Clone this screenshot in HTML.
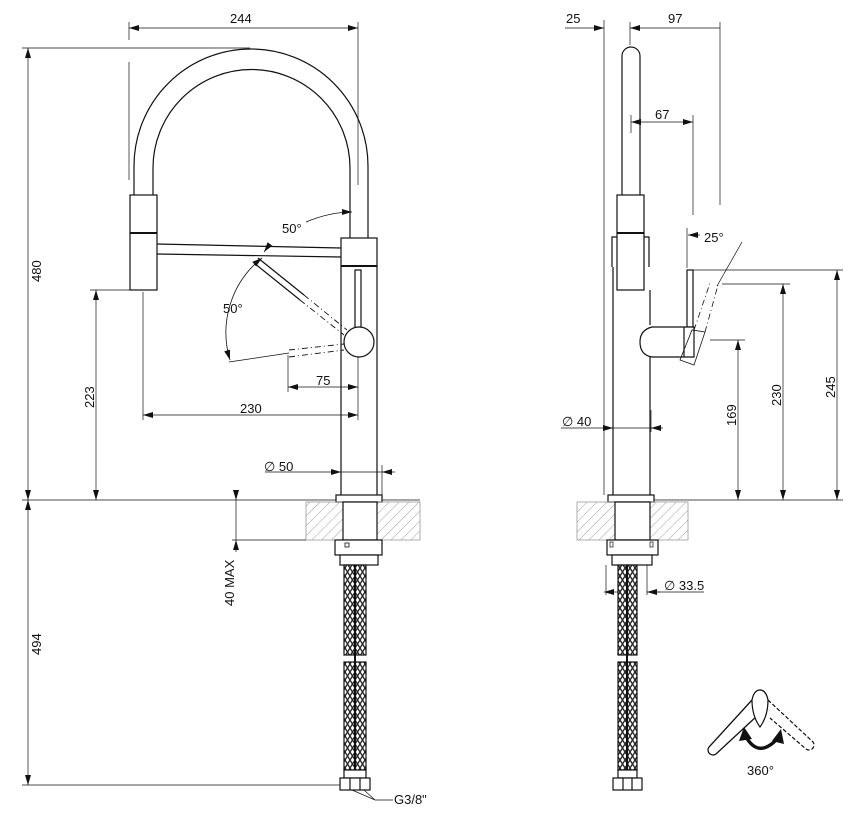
<!DOCTYPE html>
<html><head><meta charset="utf-8"><style>
html,body{margin:0;padding:0;background:#fff;}
svg{display:block;}
text{font-family:"Liberation Sans",Arial,sans-serif;font-size:13px;fill:#111;}
</style></head><body>
<svg width="856" height="816" viewBox="0 0 856 816" xmlns="http://www.w3.org/2000/svg">
<defs>
<marker id="a" viewBox="0 0 10 6" refX="10" refY="3" markerWidth="10" markerHeight="6" orient="auto-start-reverse" markerUnits="userSpaceOnUse"><path d="M0,0 L10,3 L0,6 z" fill="#111"/></marker>
<pattern id="h" width="7" height="7" patternUnits="userSpaceOnUse" patternTransform="rotate(45)"><line x1="0" y1="0" x2="0" y2="7" stroke="#888" stroke-width="0.8"/></pattern>
<pattern id="br" width="10" height="16" patternUnits="userSpaceOnUse"><rect width="10" height="16" fill="#fff"/><path d="M0,0 L10,16 M10,0 L0,16 M0,8 L5,0 M5,16 L0,8 M10,8 L5,0 M5,16 L10,8" stroke="#222" stroke-width="1.3" fill="none"/></pattern>
</defs>
<g stroke="#111" fill="none" stroke-width="1.2">
<!-- LEFT VIEW -->
<!-- arc spout -->
<path d="M134,195 L134,166 A117,117 0 0 1 368,166 L368,238"/>
<path d="M153,195 L153,168 A98.5,98.5 0 0 1 350,168 L350,238"/>
<rect x="130" y="195" width="27" height="95" fill="#fff"/>
<line x1="130" y1="233" x2="157" y2="233" stroke-width="2"/>
<path d="M157,244 L341,248 M157,254 L341,257"/>
<rect x="341" y="238" width="36" height="28" fill="#fff"/>
<line x1="341" y1="266" x2="377" y2="266" stroke-width="2"/>
<line x1="341" y1="266" x2="341" y2="495"/><line x1="377" y1="266" x2="377" y2="495"/>
<rect x="355" y="270" width="6" height="58"/>
<circle cx="359" cy="342" r="15" fill="#fff"/>
<!-- dashed handle positions -->
<path d="M258,258 L304,295 M254,263 L300,300"/>
<path d="M304,295 L347,330 M300,300 L344,335" stroke-dasharray="6,3,1,3" stroke-width="0.9"/>
<path d="M289,350 L344,344 M289,357 L344,350" stroke-dasharray="6,3,1,3" stroke-width="0.9"/>
<path d="M229,362 L289,353" stroke-width="0.8"/>
<path d="M262,258 A95,95 0 0 0 230,360" stroke-width="0.8" marker-start="url(#a)" marker-end="url(#a)"/>
<path d="M306,222 Q330,212 352,212" stroke-width="0.8" marker-end="url(#a)"/>
<line x1="264" y1="252" x2="270" y2="244" stroke-width="0.8" marker-start="url(#a)"/>
<!-- base -->
<rect x="336" y="495" width="46" height="7" fill="#fff"/>
<rect x="306" y="502" width="114" height="38" fill="url(#h)" stroke="#999" stroke-width="0.8"/>
<rect x="343" y="502" width="34" height="38" fill="#fff"/>
<rect x="335" y="540" width="47" height="15" fill="#fff"/>
<rect x="345" y="543" width="4" height="4" stroke-width="0.8"/>
<rect x="340" y="555" width="38" height="10" fill="#fff"/>
<rect x="344" y="565" width="22" height="90" fill="url(#br)"/>
<rect x="344" y="662" width="22" height="108" fill="url(#br)"/>
<line x1="355" y1="565" x2="355" y2="770" stroke-width="2"/>
<rect x="344" y="770" width="22" height="8" fill="#fff"/>
<rect x="340" y="778" width="30" height="12" fill="#fff"/>
<line x1="350" y1="778" x2="350" y2="790"/><line x1="360" y1="778" x2="360" y2="790"/>
<!-- dims left -->
<g stroke-width="0.7">
<line x1="129" y1="22" x2="129" y2="40"/><line x1="129" y1="62" x2="129" y2="180"/>
<line x1="358" y1="22" x2="358" y2="185"/>
<line x1="129" y1="28" x2="358" y2="28" marker-start="url(#a)" marker-end="url(#a)"/>
<line x1="22" y1="48" x2="250" y2="48"/>
<line x1="28" y1="48" x2="28" y2="500" marker-start="url(#a)" marker-end="url(#a)"/>
<line x1="22" y1="500" x2="336" y2="500"/>
<line x1="382" y1="500" x2="420" y2="500"/>
<line x1="90" y1="290" x2="130" y2="290"/>
<line x1="96" y1="290" x2="96" y2="500" marker-start="url(#a)" marker-end="url(#a)"/>
<line x1="143" y1="292" x2="143" y2="420"/>
<line x1="143" y1="415" x2="358" y2="415" marker-start="url(#a)" marker-end="url(#a)"/>
<line x1="288" y1="355" x2="288" y2="392"/>
<line x1="288" y1="387" x2="358" y2="387" marker-start="url(#a)" marker-end="url(#a)"/>
<line x1="358" y1="357" x2="358" y2="420"/>
<line x1="265" y1="472" x2="395" y2="472"/>
<line x1="335" y1="472" x2="341" y2="472" marker-end="url(#a)"/>
<line x1="390" y1="472" x2="382" y2="472" marker-end="url(#a)"/>
<line x1="382" y1="465" x2="382" y2="495"/>
<line x1="232" y1="540" x2="306" y2="540"/>
<line x1="236" y1="490" x2="236" y2="500" marker-end="url(#a)"/>
<line x1="236" y1="500" x2="236" y2="540"/>
<line x1="236" y1="552" x2="236" y2="540" marker-end="url(#a)"/>
<line x1="28" y1="500" x2="28" y2="785" marker-start="url(#a)" marker-end="url(#a)"/>
<line x1="22" y1="785" x2="340" y2="785"/>
<path d="M352,790 L375,800 L393,800 M364,790 L375,800"/>
</g>
<!-- RIGHT VIEW -->
<path d="M622,195 L622,56 A9,9 0 0 1 640,56 L640,195"/>
<rect x="617" y="195" width="27" height="95" fill="#fff"/>
<line x1="617" y1="233" x2="644" y2="233" stroke-width="2"/>
<path d="M612,267 L612,237 L617,237 M644,237 L649,237 L649,267"/>
<line x1="613" y1="267" x2="613" y2="495"/><line x1="650" y1="290" x2="650" y2="325"/><line x1="650" y1="357" x2="650" y2="495"/>
<rect x="687" y="270" width="6" height="57"/>
<path d="M684,327 L652,327 Q640,330 640,342 Q640,355 652,357 L694,357 L694,327 z" fill="#fff"/>
<line x1="684" y1="327" x2="684" y2="357"/>
<path d="M680,360 L692,330 L705,332 L694,365 z" stroke-width="0.8"/>
<path d="M705,332 L718,285 M694,330 L710,283" stroke-dasharray="6,3,1,3" stroke-width="0.8"/>
<line x1="717" y1="286" x2="742" y2="242" stroke-width="0.7"/>
<rect x="608" y="495" width="46" height="7" fill="#fff"/>
<rect x="577" y="502" width="111" height="38" fill="url(#h)" stroke="#999" stroke-width="0.8"/>
<rect x="615" y="502" width="35" height="38" fill="#fff"/>
<rect x="607" y="540" width="51" height="15" fill="#fff"/>
<rect x="610" y="542" width="3" height="5" stroke-width="0.7"/><rect x="650" y="542" width="3" height="5" stroke-width="0.7"/>
<rect x="612" y="555" width="40" height="10" fill="#fff"/>
<rect x="618" y="565" width="19" height="90" fill="url(#br)"/>
<rect x="618" y="662" width="19" height="108" fill="url(#br)"/>
<line x1="627" y1="565" x2="627" y2="770" stroke-width="2"/>
<rect x="618" y="770" width="19" height="8" fill="#fff"/>
<rect x="613" y="778" width="29" height="12" fill="#fff"/>
<line x1="623" y1="778" x2="623" y2="790"/><line x1="632" y1="778" x2="632" y2="790"/>
<g stroke-width="0.7">
<line x1="604" y1="20" x2="604" y2="495"/>
<line x1="630" y1="22" x2="630" y2="45"/>
<line x1="720" y1="22" x2="720" y2="205"/>
<line x1="565" y1="28" x2="604" y2="28" marker-end="url(#a)"/>
<line x1="720" y1="28" x2="630" y2="28" marker-end="url(#a)"/>
<line x1="630" y1="28" x2="640" y2="28"/>
<line x1="631" y1="115" x2="631" y2="133"/>
<line x1="693" y1="115" x2="693" y2="215"/>
<line x1="631" y1="122" x2="693" y2="122" marker-start="url(#a)" marker-end="url(#a)"/>
<line x1="687" y1="228" x2="687" y2="268"/>
<line x1="700" y1="235" x2="688" y2="235" marker-end="url(#a)"/>
<line x1="693" y1="270" x2="843" y2="270"/>
<line x1="837" y1="270" x2="837" y2="500" marker-start="url(#a)" marker-end="url(#a)"/>
<line x1="722" y1="284" x2="790" y2="284"/>
<line x1="783" y1="284" x2="783" y2="500" marker-start="url(#a)" marker-end="url(#a)"/>
<line x1="710" y1="340" x2="745" y2="340"/>
<line x1="738" y1="340" x2="738" y2="500" marker-start="url(#a)" marker-end="url(#a)"/>
<line x1="654" y1="500" x2="843" y2="500"/>
<line x1="561" y1="428" x2="663" y2="428"/>
<line x1="606" y1="428" x2="613" y2="428" marker-end="url(#a)"/>
<line x1="660" y1="428" x2="651" y2="428" marker-end="url(#a)"/>
<line x1="651" y1="410" x2="651" y2="432"/>
<line x1="606" y1="565" x2="606" y2="595"/><line x1="647" y1="565" x2="647" y2="595"/>
<line x1="604" y1="592" x2="618" y2="592" marker-start="url(#a)"/>
<line x1="647" y1="592" x2="704" y2="592"/>
<line x1="660" y1="592" x2="647" y2="592" marker-end="url(#a)"/>
</g>
<!-- 360 icon -->
<path d="M758,715 L716,754 A5,5 0 0 1 709,747 L752,700" stroke-width="1.3"/>
<path d="M768,700 L812,741 A5,5 0 0 1 806,749 L770,718" stroke-width="1.2" stroke-dasharray="4,2"/>
<path d="M752,700 Q754,690 760,690 Q766,690 768,700 Q768,716 760,727 Q752,716 752,700 z" fill="#fff" stroke-width="1.2"/>
<path d="M745,735 Q758,760 778,738" stroke-width="3.5"/>
<path d="M739,741 L744,727 L752,739 z M772,741 L781,729 L784,744 z" fill="#111" stroke="none"/>
</g>
<g>
<text x="230" y="23">244</text>
<text transform="translate(41,282) rotate(-90)">480</text>
<text x="282" y="233">50°</text>
<text x="223" y="313">50°</text>
<text x="316" y="385">75</text>
<text x="240" y="413">230</text>
<text transform="translate(94,408) rotate(-90)">223</text>
<text x="264" y="471">∅ 50</text>
<text transform="translate(234,606) rotate(-90)">40 MAX</text>
<text transform="translate(41,655) rotate(-90)">494</text>
<text x="394" y="804">G3/8"</text>
<text x="566" y="23">25</text>
<text x="668" y="23">97</text>
<text x="655" y="119">67</text>
<text x="704" y="242">25°</text>
<text transform="translate(835,398) rotate(-90)">245</text>
<text transform="translate(781,406) rotate(-90)">230</text>
<text transform="translate(736,426) rotate(-90)">169</text>
<text x="562" y="426">∅ 40</text>
<text x="664" y="590">∅ 33.5</text>
<text x="747" y="775">360°</text>
</g>
</svg>
</body></html>
